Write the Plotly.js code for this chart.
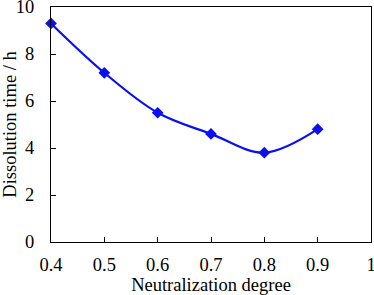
<!DOCTYPE html>
<html>
<head>
<meta charset="utf-8">
<script src="https://cdn.plot.ly/plotly-3.0.1.min.js"></script>
<style>html,body{margin:0;padding:0;background:#fff;}#chart{width:374px;height:295px;}</style>
</head>
<body>
<div id="chart"></div>
<script>
var neutralization = [0.4, 0.5, 0.6, 0.7, 0.8, 0.9];
var dissolutionTime = [9.3, 7.2, 5.5, 4.6, 3.8, 4.8];
var xTickVals = [0.4, 0.5, 0.6, 0.7, 0.8, 0.9, 1];
var xTickText = ['0.4', '0.5', '0.6', '0.7', '0.8', '0.9', '1'];
var yTickVals = [0, 2, 4, 6, 8, 10];

var trace = {
  x: neutralization,
  y: dissolutionTime,
  mode: 'lines+markers',
  type: 'scatter',
  line: {color: '#0a10f0', width: 2.2, shape: 'spline', smoothing: 1},
  marker: {symbol: 'diamond', size: 9, color: '#0a10f0'},
  showlegend: false,
  cliponaxis: false
};

var fontFam = 'Times New Roman, Liberation Serif, DejaVu Serif, serif';
var fs = 18.5;
var layout = {
  width: 374, height: 295,
  margin: {l: 51, r: 3, t: 7, b: 53},
  paper_bgcolor: '#fff', plot_bgcolor: '#fff',
  font: {family: fontFam, size: fs, color: '#000'},
  xaxis: {
    range: [0.4, 1],
    tickvals: xTickVals, ticktext: xTickText,
    ticks: 'inside', ticklen: 5, tickcolor: '#000', tickwidth: 1,
    showline: true, linecolor: '#000', linewidth: 1, mirror: true,
    showgrid: false, zeroline: false,
    ticklabeloverflow: 'allow',
    ticklabelstandoff: 6,
    title: {text: 'Neutralization degree', font: {family: fontFam, size: fs}, standoff: 0},
    tickfont: {family: fontFam, size: fs}
  },
  yaxis: {
    range: [0, 10],
    tickvals: yTickVals,
    ticks: 'inside', ticklen: 5, tickcolor: '#000', tickwidth: 1,
    showline: true, linecolor: '#000', linewidth: 1, mirror: true,
    showgrid: false, zeroline: false,
    ticklabeloverflow: 'allow',
    ticklabelstandoff: 12,
    title: {text: 'Dissolution time / h', font: {family: fontFam, size: fs}, standoff: 2},
    tickfont: {family: fontFam, size: fs}
  }
};

Plotly.newPlot('chart', [trace], layout, {displayModeBar: false, staticPlot: true});
</script>
</body>
</html>
